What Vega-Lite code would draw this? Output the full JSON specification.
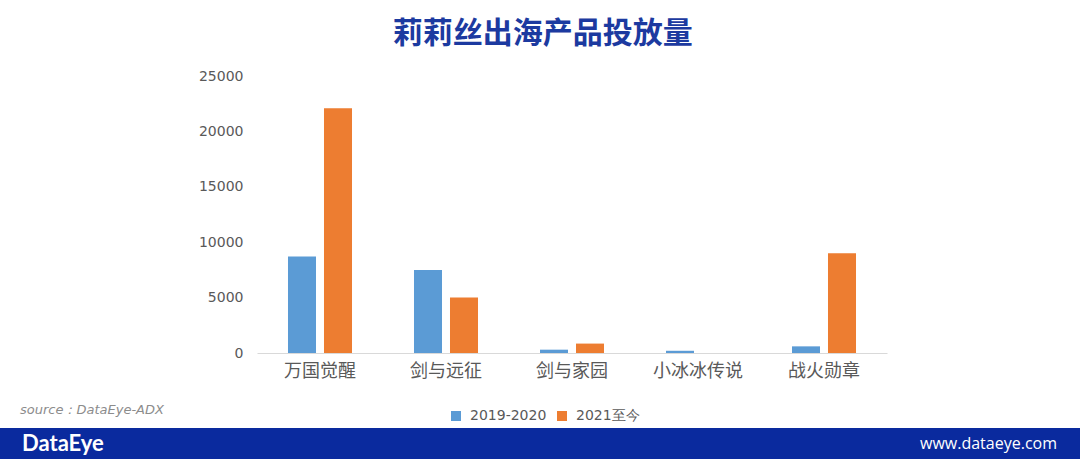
{
  "$schema": "https://vega.github.io/schema/vega-lite/v6.json",
  "padding": {"top": 19, "left": 0, "right": 0, "bottom": 0},
  "background": "white",
  "spacing": 24,
  "config": {
    "view": {"stroke": null},
    "font": "Noto Sans CJK SC"
  },
  "datasets": {
    "bars": [
      {"game": "万国觉醒", "period": "2019-2020", "value": 8700},
      {"game": "万国觉醒", "period": "2021至今", "value": 22100},
      {"game": "剑与远征", "period": "2019-2020", "value": 7500},
      {"game": "剑与远征", "period": "2021至今", "value": 5000},
      {"game": "剑与家园", "period": "2019-2020", "value": 300},
      {"game": "剑与家园", "period": "2021至今", "value": 850},
      {"game": "小冰冰传说", "period": "2019-2020", "value": 200},
      {"game": "小冰冰传说", "period": "2021至今", "value": 0},
      {"game": "战火勋章", "period": "2019-2020", "value": 600},
      {"game": "战火勋章", "period": "2021至今", "value": 9000}
    ],
    "footer": [
      {"label": "DataEye", "side": "left"},
      {"label": "www.dataeye.com", "side": "right"}
    ]
  },
  "vconcat": [
    {
      "spacing": 0,
      "hconcat": [
        {
          "width": 198,
          "height": 10,
          "data": {"values": []},
          "mark": {"type": "point", "opacity": 0},
          "encoding": {}
        },
        {
          "width": 630,
          "height": 277,
          "title": {
            "text": "莉莉丝出海产品投放量",
            "fontSize": 30,
            "fontWeight": "bold",
            "color": "#1c3aa0",
            "anchor": "middle",
            "frame": "bounds",
            "offset": 20
          },
          "data": {"name": "bars"},
          "mark": {"type": "bar"},
          "encoding": {
            "x": {
              "field": "game",
              "type": "nominal",
              "sort": null,
              "scale": {"paddingInner": 0.492, "paddingOuter": 0.246},
              "axis": {
                "title": null,
                "labelAngle": 0,
                "ticks": false,
                "domainColor": "#d9d9d9",
                "labelFontSize": 18,
                "labelColor": "#595959",
                "labelPadding": 9
              }
            },
            "xOffset": {
              "field": "period",
              "sort": ["2019-2020", "2021至今"],
              "scale": {"paddingInner": 0.222}
            },
            "y": {
              "field": "value",
              "type": "quantitative",
              "scale": {"domain": [0, 25000]},
              "axis": {
                "title": null,
                "values": [0, 5000, 10000, 15000, 20000, 25000],
                "format": "d",
                "grid": false,
                "domain": false,
                "ticks": false,
                "labelPadding": 14,
                "labelFont": "DejaVu Sans",
                "labelFontSize": 14,
                "labelColor": "#595959"
              }
            },
            "color": {
              "field": "period",
              "type": "nominal",
              "scale": {"domain": ["2019-2020", "2021至今"], "range": ["#5b9bd5", "#ed7d31"]},
              "legend": {
                "title": null,
                "orient": "none",
                "direction": "horizontal",
                "legendX": 449,
                "legendY": 333,
                "symbolType": "square",
                "symbolSize": 100,
                "symbolStrokeWidth": 0,
                "labelFont": "DejaVu Sans",
                "labelFontSize": 14,
                "labelColor": "#595959",
                "labelOffset": 7,
                "columnPadding": 8
              }
            }
          }
        }
      ]
    },
    {
      "width": 1080,
      "height": 31,
      "view": {"fill": "#0a2a9e", "stroke": null},
      "title": {
        "text": "source：DataEye-ADX",
        "anchor": "start",
        "frame": "group",
        "dx": 20,
        "offset": 11,
        "fontSize": 13,
        "fontStyle": "italic",
        "fontWeight": "normal",
        "font": "DejaVu Sans",
        "color": "#8c8c8c"
      },
      "data": {"name": "footer"},
      "layer": [
        {
          "transform": [{"filter": "datum.side === 'left'"}],
          "mark": {"type": "text", "align": "left", "baseline": "middle", "dx": 22, "font": "Lato", "fontWeight": "bold", "fontSize": 22, "color": "white"},
          "encoding": {
            "x": {"datum": 0, "type": "quantitative", "scale": {"domain": [0, 1]}, "axis": null},
            "text": {"field": "label"}
          }
        },
        {
          "transform": [{"filter": "datum.side === 'right'"}],
          "mark": {"type": "text", "align": "right", "baseline": "middle", "dx": -23, "font": "Open Sans", "fontSize": 16, "color": "white"},
          "encoding": {
            "x": {"datum": 1, "type": "quantitative", "scale": {"domain": [0, 1]}, "axis": null},
            "text": {"field": "label"}
          }
        }
      ]
    }
  ]
}
